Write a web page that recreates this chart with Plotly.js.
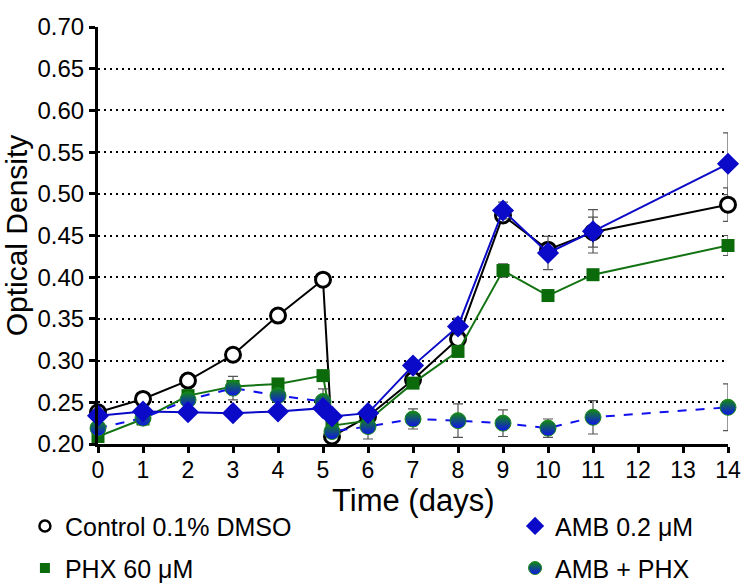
<!DOCTYPE html>
<html>
<head>
<meta charset="utf-8">
<script src="https://cdn.plot.ly/plotly-3.0.1.min.js"></script>
<style>html,body{margin:0;padding:0;background:#fff;}#chart{width:743px;height:584px;}</style>
</head>
<body>
<div id="chart"></div>
<script>
// Time points (days); 5.2 = re-seeding right after day 5
const days = [0, 1, 2, 3, 4, 5, 5.2, 6, 7, 8, 9, 10, 11, 14];

const controlOD  = [0.238, 0.254, 0.276, 0.307, 0.354, 0.397, 0.209, 0.233, 0.277, 0.326, 0.474, 0.433, 0.454, 0.487];
const controlErr = [0.004, 0.003, 0.003, 0.003, 0.007, 0.004, 0.003, 0.004, 0.005, 0.008, 0.006, 0.008, 0.018, 0.020];

const ambOD  = [0.234, 0.239, 0.238, 0.237, 0.239, 0.243, 0.233, 0.237, 0.294, 0.341, 0.480, 0.429, 0.455, 0.536];
const ambErr = [0.003, 0.003, 0.003, 0.003, 0.003, 0.004, 0.004, 0.004, 0.005, 0.010, 0.010, 0.020, 0.026, 0.037];

const phxOD  = [0.209, 0.230, 0.258, 0.269, 0.272, 0.282, 0.222, 0.228, 0.273, 0.311, 0.408, 0.378, 0.403, 0.438];
const phxErr = [0.003, 0.003, 0.004, 0.005, 0.006, 0.004, 0.004, 0.004, 0.004, 0.005, 0.008, 0.004, 0.004, 0.012];

const comboOD  = [0.219, 0.231, 0.253, 0.267, 0.258, 0.251, 0.215, 0.221, 0.230, 0.228, 0.225, 0.219, 0.232, 0.244];
const comboErr = [0.004, 0.004, 0.005, 0.014, 0.007, 0.015, 0.004, 0.015, 0.012, 0.020, 0.016, 0.011, 0.020, 0.028];

const seriesNames = ['Control 0.1% DMSO', 'AMB 0.2 μM', 'PHX 60 μM', 'AMB + PHX'];
const xTicks = [0,1,2,3,4,5,6,7,8,9,10,11,12,13,14];
const xTitle = 'Time (days)';
const yTitle = 'Optical Density';

const errStyle = {type: 'data', visible: true, color: '#555555', thickness: 1.2, width: 5};

const markerControl = {symbol: 'circle', size: 15, color: '#ffffff', line: {color: '#000000', width: 3}};
const markerAmb = {symbol: 'diamond', size: 17, color: '#0a0ac8', line: {color: '#0a0ac8', width: 0}};
const markerPhx = {symbol: 'square', size: 13, color: '#0b6b0b', line: {color: '#0b6b0b', width: 0}};
const markerCombo = {symbol: 'circle', size: 16, color: '#128a12', line: {color: '#1a8a1a', width: 1},
  gradient: {type: 'vertical', color: '#1010ee'}};

function dataTrace(y, err, name, lineColor, dash, marker) {
  return {x: days, y: y, name: name, type: 'scatter', mode: 'lines+markers', showlegend: false,
    cliponaxis: false, line: {color: lineColor, width: 2, dash: dash}, marker: marker,
    error_y: Object.assign({array: err}, errStyle)};
}
function legendTrace(name, marker, legendId, size, lineW) {
  const m = Object.assign({}, marker, {size: size});
  m.line = Object.assign({}, marker.line, {width: lineW});
  return {x: [null], y: [null], name: name, type: 'scatter', mode: 'markers', marker: m,
    legend: legendId, showlegend: true};
}

const traces = [
  dataTrace(controlOD, controlErr, seriesNames[0], '#000000', 'solid', markerControl),
  dataTrace(phxOD, phxErr, seriesNames[2], '#137313', 'solid', markerPhx),
  dataTrace(comboOD, comboErr, seriesNames[3], '#1010ee', 'dash', markerCombo),
  dataTrace(ambOD, ambErr, seriesNames[1], '#0a0ac8', 'solid', markerAmb),
  legendTrace(seriesNames[0], markerControl, 'legend', 11, 2.5),
  legendTrace(seriesNames[1], markerAmb, 'legend2', 14, 0),
  legendTrace(seriesNames[2], markerPhx, 'legend3', 10, 0),
  legendTrace(seriesNames[3], markerCombo, 'legend4', 13, 1)
];

const fontFam = 'Liberation Sans, Arial, sans-serif';
const legFont = {family: fontFam, size: 25, color: '#000000'};
function legendBox(x, y) {
  return {x: x, y: y, xanchor: 'left', yanchor: 'middle', orientation: 'v',
    font: legFont, bgcolor: 'rgba(0,0,0,0)', borderwidth: 0, itemwidth: 30};
}

const layout = {
  width: 743, height: 584,
  margin: {l: 98, r: 15, t: 27, b: 140, autoexpand: false},
  paper_bgcolor: '#ffffff', plot_bgcolor: '#ffffff',
  font: {family: fontFam, color: '#000000', size: 20},
  xaxis: {
    range: [0, 14], tickvals: xTicks, ticktext: xTicks.map(String),
    showgrid: false, zeroline: false, showline: true, linecolor: '#000000', linewidth: 3,
    ticks: 'outside', ticklen: 6, tickwidth: 3, tickcolor: '#000000', ticklabelstandoff: -3,
    tickfont: {family: fontFam, size: 23, color: '#000000'}
  },
  yaxis: {
    range: [0.2, 0.7], dtick: 0.05, tickformat: '.2f',
    showgrid: true, gridcolor: '#000000', gridwidth: 2, griddash: '2px,4px',
    zeroline: false, showline: true, linecolor: '#000000', linewidth: 3,
    ticks: 'outside', ticklen: 6, tickwidth: 3, tickcolor: '#000000',
    tickfont: {family: fontFam, size: 24, color: '#000000'},
    title: {text: yTitle, font: {family: fontFam, size: 30, color: '#000000'}, standoff: 2}
  },
  annotations: [{
    text: xTitle, xref: 'paper', yref: 'paper', x: 0.5, y: -0.136,
    xanchor: 'center', yanchor: 'middle', showarrow: false, borderpad: 0,
    font: {family: fontFam, size: 31, color: '#000000'}
  }],
  legend: legendBox(-0.116, -0.197),
  legend2: legendBox(0.662, -0.197),
  legend3: legendBox(-0.116, -0.298),
  legend4: legendBox(0.662, -0.298),
  showlegend: true
};

Plotly.newPlot('chart', traces, layout, {displayModeBar: false, staticPlot: true});
</script>
</body>
</html>
